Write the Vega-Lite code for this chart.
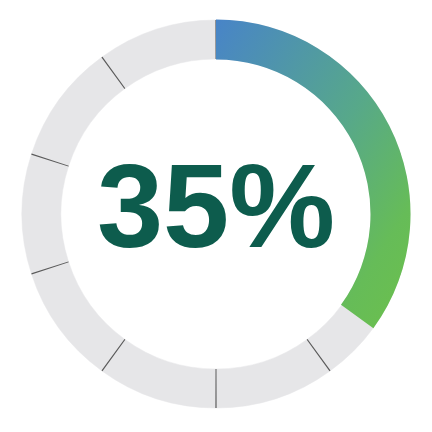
{
  "$schema": "https://vega.github.io/schema/vega-lite/v6.json",
  "width": 430,
  "height": 430,
  "autosize": {"type": "fit", "contains": "padding"},
  "padding": {"left": 2, "top": 0, "right": 0, "bottom": 2},
  "background": "white",
  "view": {"stroke": null},
  "datasets": {
    "segments": [
      {"seg": 1, "start": 0, "end": 10},
      {"seg": 2, "start": 10, "end": 20},
      {"seg": 3, "start": 20, "end": 30},
      {"seg": 4, "start": 30, "end": 40},
      {"seg": 5, "start": 40, "end": 50},
      {"seg": 6, "start": 50, "end": 60},
      {"seg": 7, "start": 60, "end": 70},
      {"seg": 8, "start": 70, "end": 80},
      {"seg": 9, "start": 80, "end": 90},
      {"seg": 10, "start": 90, "end": 100}
    ],
    "separators": [
      {"start": -0.05, "end": 0.05},
      {"start": 9.95, "end": 10.05},
      {"start": 19.95, "end": 20.05},
      {"start": 29.95, "end": 30.05},
      {"start": 39.95, "end": 40.05},
      {"start": 49.95, "end": 50.05},
      {"start": 59.95, "end": 60.05},
      {"start": 69.95, "end": 70.05},
      {"start": 79.95, "end": 80.05},
      {"start": 89.95, "end": 90.05}
    ],
    "progress": [{"start": 0, "end": 35, "label": "35%"}]
  },
  "layer": [
    {
      "data": {"name": "segments"},
      "mark": {"type": "arc", "radius": 194, "radius2": 155, "fill": "#e6e6e8", "stroke": "#e6e6e8", "strokeWidth": 0.5},
      "encoding": {
        "theta": {"field": "start", "type": "quantitative", "scale": {"domain": [0, 100], "range": [0, 6.283185307179586]}},
        "theta2": {"field": "end"}
      }
    },
    {
      "data": {"name": "separators"},
      "mark": {"type": "arc", "radius": 194, "radius2": 155, "fill": "#5a5a5a"},
      "encoding": {
        "theta": {"field": "start", "type": "quantitative", "scale": {"domain": [0, 100], "range": [0, 6.283185307179586]}},
        "theta2": {"field": "end"}
      }
    },
    {
      "data": {"name": "progress"},
      "mark": {
        "type": "arc",
        "radius": 194.5,
        "radius2": 154.5,
        "fill": {
          "gradient": "linear",
          "x1": 0, "y1": 0, "x2": 1, "y2": 1,
          "stops": [
            {"offset": 0, "color": "#4884c8"},
            {"offset": 0.5, "color": "#57a88a"},
            {"offset": 0.8, "color": "#66bc58"},
            {"offset": 1, "color": "#6cc04c"}
          ]
        }
      },
      "encoding": {
        "theta": {"field": "start", "type": "quantitative", "scale": {"domain": [0, 100], "range": [0, 6.283185307179586]}},
        "theta2": {"field": "end"}
      }
    },
    {
      "data": {"name": "progress"},
      "mark": {"type": "text", "font": "Liberation Sans", "fontWeight": "bold", "fontSize": 119, "color": "#0d5c4d", "align": "center", "baseline": "middle", "dy": -3},
      "encoding": {"text": {"field": "label"}}
    }
  ]
}
